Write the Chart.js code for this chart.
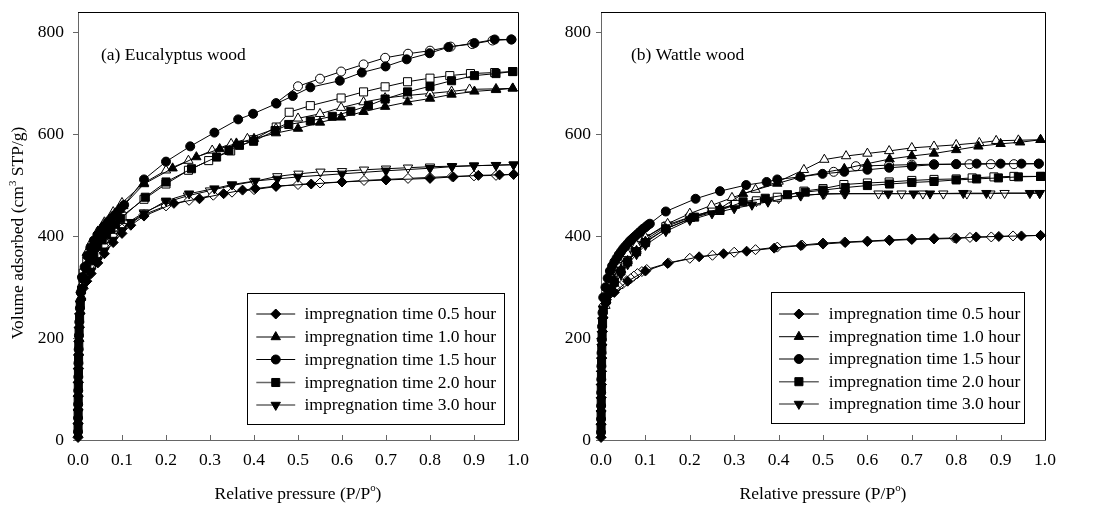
<!DOCTYPE html>
<html><head><meta charset="utf-8">
<script src="https://cdn.jsdelivr.net/npm/chart.js@4/dist/chart.umd.min.js"></script>
<style>
html,body{margin:0;padding:0;background:#fff;}
#wrap{position:relative;width:1095px;height:507px;overflow:hidden;background:#fff;}
canvas{position:absolute;top:0;}
</style></head><body>
<div id="wrap">
<canvas id="cA" width="560" height="507" style="left:0px"></canvas>
<canvas id="cB" width="555" height="507" style="left:540px"></canvas>
</div>
<script>
// ---------- DATA : [relative pressure, volume adsorbed] ----------
const seriesLabels = ['impregnation time 0.5 hour','impregnation time 1.0 hour','impregnation time 1.5 hour','impregnation time 2.0 hour','impregnation time 3.0 hour'];
const xTicks = [0,0.1,0.2,0.3,0.4,0.5,0.6,0.7,0.8,0.9,1.0];
const yTicks = [0,200,400,600,800];

// (a) Eucalyptus wood — adsorption (filled) and desorption (open)
const euc05Ads = [[0.0001,5],[0.0002,32],[0.0003,59],[0.0005,86],[0.0007,113],[0.001,140],[0.0014,167],[0.002,194],[0.003,221],[0.0045,248],[0.0065,275],[0.012,298],[0.02,312],[0.03,327],[0.045,348],[0.06,366],[0.08,388],[0.1,406],[0.12,422],[0.15,440],[0.218,465],[0.276,474],[0.331,484],[0.374,491],[0.403,494],[0.45,499],[0.53,503],[0.6,507],[0.7,511],[0.8,514],[0.853,517],[0.91,520],[0.958,521],[0.99,522]];
const euc05Des = [[0.99,522],[0.95,520],[0.9,519],[0.85,518],[0.8,516],[0.75,514],[0.7,512],[0.65,510],[0.6,507],[0.55,505],[0.5,502],[0.45,498],[0.4,492],[0.35,487],[0.3075,481],[0.2525,471],[0.2,460],[0.15,443],[0.1,415],[0.08,400],[0.06,380],[0.045,362],[0.03,340],[0.02,322],[0.012,305]];
const euc10Ads = [[0.00012,11],[0.00025,38],[0.0004,65],[0.0006,92],[0.0008,119],[0.0011,146],[0.0016,173],[0.0023,200],[0.0033,227],[0.005,254],[0.0075,282],[0.011,320],[0.017,342],[0.024,362],[0.031,379],[0.039,393],[0.047,405],[0.055,415],[0.063,424],[0.071,432],[0.079,439],[0.087,446],[0.095,453],[0.103,460],[0.15,503],[0.215,534],[0.269,556],[0.322,572],[0.36,583],[0.4,592],[0.45,603],[0.5,612],[0.55,624],[0.598,634],[0.649,645],[0.698,655],[0.749,664],[0.8,671],[0.849,679],[0.901,685],[0.95,688],[0.988,691]];
const euc10Des = [[0.988,691],[0.95,690],[0.89,689],[0.849,685],[0.8,681],[0.749,677],[0.698,672],[0.649,664],[0.598,653],[0.55,641],[0.5,632],[0.45,612],[0.385,592],[0.348,582],[0.305,569],[0.251,549],[0.2,530],[0.15,505],[0.1,466],[0.08,448],[0.06,428],[0.045,410],[0.03,388],[0.02,368]];
const euc15Ads = [[0.00008,16],[0.00018,43],[0.00035,70],[0.00055,97],[0.00075,124],[0.001,151],[0.0015,178],[0.0021,205],[0.003,232],[0.0043,259],[0.0062,290],[0.009,320],[0.015,340],[0.021,362],[0.028,378],[0.036,392],[0.044,403],[0.051,412],[0.059,420],[0.067,428],[0.075,435],[0.082,441],[0.09,448],[0.097,455],[0.105,462],[0.15,512],[0.2,547],[0.255,577],[0.31,604],[0.364,630],[0.398,641],[0.451,661],[0.488,676],[0.528,693],[0.595,706],[0.645,722],[0.699,734],[0.747,748],[0.799,760],[0.842,772],[0.901,780],[0.947,787],[0.985,787]];
const euc15Des = [[0.985,787],[0.942,785],[0.896,778],[0.847,773],[0.8,765],[0.75,759],[0.698,751],[0.649,738],[0.598,724],[0.55,710],[0.5,695],[0.45,662]];
const euc20Ads = [[0.00015,22],[0.0003,49],[0.00045,76],[0.0007,103],[0.001,130],[0.0013,157],[0.0018,184],[0.0025,211],[0.0036,238],[0.0052,265],[0.008,295],[0.013,318],[0.02,336],[0.028,352],[0.036,366],[0.045,380],[0.055,393],[0.065,404],[0.075,414],[0.085,424],[0.097,435],[0.153,477],[0.2,507],[0.258,533],[0.315,556],[0.343,569],[0.367,579],[0.399,587],[0.448,608],[0.479,620],[0.528,627],[0.578,636],[0.62,646],[0.66,657],[0.698,670],[0.749,684],[0.8,695],[0.849,706],[0.901,716],[0.95,720],[0.988,724]];
const euc20Des = [[0.988,724],[0.947,722],[0.892,720],[0.845,716],[0.8,711],[0.749,704],[0.698,694],[0.649,684],[0.598,672],[0.528,657],[0.48,644],[0.4505,615],[0.399,590],[0.347,568],[0.297,549],[0.251,530],[0.2,503],[0.15,473],[0.1,440],[0.08,425],[0.06,408],[0.045,393],[0.03,372],[0.02,352],[0.012,328]];
const euc30Ads = [[0.0001,27],[0.00022,54],[0.0004,81],[0.0006,108],[0.00085,135],[0.0012,162],[0.0016,189],[0.0022,216],[0.003,243],[0.0042,268],[0.006,285],[0.012,300],[0.02,316],[0.03,332],[0.045,353],[0.06,372],[0.08,393],[0.1,412],[0.12,428],[0.15,445],[0.2,470],[0.2525,484],[0.31,494],[0.35,502],[0.403,509],[0.453,513],[0.5,517],[0.6,523],[0.7,529],[0.8,534],[0.85,537],[0.9,539],[0.95,540],[0.99,541]];
const euc30Des = [[0.99,541],[0.95,540],[0.9,539],[0.85,538],[0.8,537],[0.75,535],[0.7,533],[0.65,531],[0.6,528],[0.551,527],[0.501,523],[0.453,518],[0.4,508],[0.35,500],[0.3,490],[0.25,480],[0.2,467],[0.15,447],[0.1,420],[0.08,405],[0.06,388],[0.045,370],[0.03,348],[0.02,328],[0.012,308]];

// (b) Wattle wood
const wat05Ads = [[0.0001,5],[0.0002,31],[0.00035,57],[0.0005,83],[0.0007,109],[0.001,135],[0.0014,161],[0.002,187],[0.003,213],[0.0045,240],[0.01,268],[0.03,290],[0.06,312],[0.1,332],[0.15,347],[0.221,360],[0.276,366],[0.328,371],[0.39,377],[0.45,382],[0.5,385],[0.55,388],[0.6,390],[0.65,392],[0.7,394],[0.75,395],[0.8,396],[0.845,399],[0.896,400],[0.947,401],[0.99,402]];
const wat05Des = [[0.99,402],[0.928,401],[0.879,399],[0.831,398],[0.796,397],[0.75,396],[0.7,395],[0.649,393],[0.6,391],[0.549,389],[0.5,387],[0.453,383],[0.397,379],[0.348,374],[0.3,369],[0.251,363],[0.2,357],[0.152,348],[0.103,335],[0.092,331],[0.082,327],[0.074,322],[0.067,317],[0.058,313],[0.049,307],[0.04,302],[0.033,298],[0.026,294],[0.018,285],[0.012,276],[0.007,265]];
const wat10Ads = [[0.00012,10],[0.00025,36],[0.0004,62],[0.0006,88],[0.0008,114],[0.0011,140],[0.0016,166],[0.0023,192],[0.0033,218],[0.005,245],[0.012,275],[0.02,295],[0.03,315],[0.045,335],[0.06,352],[0.08,372],[0.1,390],[0.146,415],[0.2,435],[0.268,455],[0.32,484],[0.397,504],[0.449,517],[0.548,533],[0.6,543],[0.65,552],[0.7,558],[0.75,563],[0.8,570],[0.85,577],[0.9,582],[0.944,585],[0.99,590]];
const wat10Des = [[0.99,590],[0.94,589],[0.89,588],[0.852,584],[0.8,580],[0.75,577],[0.7,574],[0.649,568],[0.6,563],[0.552,558],[0.503,551],[0.457,531],[0.4,508],[0.348,492],[0.295,476],[0.249,461],[0.2,445],[0.15,425],[0.1,398],[0.08,383],[0.06,366],[0.04,340],[0.025,312],[0.01,264]];
const wat15Ads = [[0.00008,15],[0.00018,41],[0.0003,67],[0.00045,93],[0.00065,119],[0.0009,145],[0.0012,171],[0.0017,197],[0.0024,223],[0.0034,250],[0.005,280],[0.01,300],[0.015,318],[0.02,332],[0.025,342],[0.03,350],[0.035,357],[0.04,364],[0.045,370],[0.05,376],[0.055,381],[0.06,386],[0.065,391],[0.07,395],[0.075,399],[0.08,403],[0.085,407],[0.09,411],[0.095,415],[0.1,418],[0.105,422],[0.11,425],[0.146,449],[0.213,474],[0.268,489],[0.327,501],[0.373,507],[0.397,512],[0.449,517],[0.499,523],[0.548,527],[0.6,531],[0.649,535],[0.7,538],[0.75,541],[0.8,542],[0.846,543],[0.9,543],[0.947,543],[0.986,543]];
const wat15Des = [[0.986,543],[0.93,542],[0.878,542],[0.83,542],[0.8,542],[0.75,542],[0.7,541],[0.649,540],[0.574,538],[0.524,527]];
const wat20Ads = [[0.00015,21],[0.0003,47],[0.0005,73],[0.0007,99],[0.001,125],[0.0013,151],[0.0018,177],[0.0025,203],[0.0035,229],[0.0052,255],[0.012,275],[0.02,292],[0.03,310],[0.045,332],[0.06,350],[0.08,370],[0.1,388],[0.146,415],[0.211,438],[0.268,451],[0.32,468],[0.37,475],[0.42,482],[0.46,487],[0.5,491],[0.55,496],[0.6,500],[0.65,503],[0.7,506],[0.75,508],[0.8,511],[0.846,513],[0.895,515],[0.94,517],[0.99,518]];
const wat20Des = [[0.99,518],[0.93,518],[0.885,517],[0.836,515],[0.8,513],[0.75,512],[0.7,510],[0.649,507],[0.6,505],[0.547,502],[0.5,494],[0.457,489],[0.397,477],[0.35,470],[0.303,463],[0.251,451],[0.202,438],[0.146,419],[0.101,394],[0.078,377],[0.056,360],[0.038,341],[0.02,312],[0.01,281]];
const wat30Ads = [[0.0001,26],[0.00022,52],[0.0004,78],[0.0006,104],[0.00085,130],[0.0012,156],[0.0016,182],[0.0022,208],[0.003,234],[0.0042,258],[0.012,270],[0.02,288],[0.03,305],[0.045,325],[0.06,345],[0.08,365],[0.1,383],[0.146,410],[0.2,432],[0.25,445],[0.3,455],[0.34,462],[0.376,468],[0.449,481],[0.5,483],[0.55,484],[0.647,484],[0.704,484],[0.741,484],[0.816,485],[0.868,485],[0.966,485],[0.988,485]];
const wat30Des = [[0.988,485],[0.909,485],[0.877,484],[0.824,484],[0.771,484],[0.725,484],[0.677,484],[0.625,484],[0.548,484],[0.503,484],[0.45,480],[0.4,475],[0.35,469],[0.3,461],[0.25,450],[0.2,438],[0.15,423],[0.1,398],[0.08,385],[0.06,370],[0.04,350],[0.025,325],[0.015,300]];

// ---------- STYLE ----------
const FONT = '"Liberation Serif", "Times New Roman", Times, serif';
const FS = 17.5;
const pointStyles = ['rectRot','triangle','circle','rect','triangle'];
const pointRots = [0,0,0,0,180];
const pointRadii = [5,5.4,4.5,5.7,5.4];

function makeDataset(arr, i, filled) {
  return {
    label: seriesLabels[i],
    data: arr.map(p => ({x: p[0], y: p[1]})),
    showLine: true, tension: 0,
    borderColor: '#000', borderWidth: 1,
    pointStyle: pointStyles[i], pointRotation: pointRots[i], pointRadius: pointRadii[i],
    pointBackgroundColor: filled ? '#000' : '#fff',
    pointBorderColor: '#000', pointBorderWidth: 1,
    clip: false
  };
}
function makeDatasets(ads, des) {
  const out = [];
  ads.forEach((a, i) => out.push(makeDataset(a, i, true)));
  des.forEach((d, i) => out.push(makeDataset(d, i, false)));
  return out;
}

function drawRich(ctx, parts, x, y, size) {
  let total = 0;
  const w = parts.map(p => { ctx.font = (p[1] ? size * 0.62 : size) + 'px ' + FONT; const m = ctx.measureText(p[0]).width; total += m; return m; });
  let cx = x - total / 2;
  ctx.textAlign = 'left'; ctx.textBaseline = 'middle';
  parts.forEach((p, i) => {
    ctx.font = (p[1] ? size * 0.62 : size) + 'px ' + FONT;
    ctx.fillText(p[0], cx, p[1] ? y - size * 0.33 : y);
    cx += w[i];
  });
}

function makePanelPlugin(cfg) {
  return {
    id: 'panel' + cfg.id,
    beforeDatasetsDraw(chart) {
      const {ctx, chartArea: a} = chart;
      const xs = chart.scales.x;
      ctx.save();
      ctx.lineWidth = 1;
      ctx.strokeStyle = '#000';
      const t = Math.round(a.top) + 0.5, r = Math.round(a.right) + 0.5;
      ctx.beginPath(); ctx.moveTo(a.left, t); ctx.lineTo(r, t); ctx.lineTo(r, a.bottom); ctx.stroke();
      ctx.strokeStyle = '#666';
      xTicks.forEach(v => {
        if (v <= 0 || v >= 1) return;
        const px = Math.round(xs.getPixelForValue(v)) + 0.5;
        ctx.beginPath(); ctx.moveTo(px, a.bottom); ctx.lineTo(px, a.bottom - 5); ctx.stroke();
      });
      ctx.restore();
    },
    afterDraw(chart) {
      const {ctx, chartArea: a} = chart;
      ctx.save();
      ctx.fillStyle = '#000';
      ctx.font = FS + 'px ' + FONT;
      ctx.textAlign = 'left'; ctx.textBaseline = 'middle';
      ctx.fillText(cfg.note, cfg.noteX, cfg.noteY);
      drawRich(ctx, [['Relative pressure (P/P', false], ['o', true], [')', false]], (a.left + a.right) / 2, 494, FS);
      if (cfg.yTitle) {
        ctx.save();
        ctx.translate(18.5, 233);
        ctx.rotate(-Math.PI / 2);
        drawRich(ctx, [['Volume adsorbed (cm', false], ['3', true], [' STP/g)', false]], 0, 0, FS);
        ctx.restore();
      }
      // legend
      const L = cfg.legend;
      ctx.fillStyle = '#fff';
      ctx.fillRect(L.x0, L.y0, L.x1 - L.x0, L.y1 - L.y0);
      ctx.strokeStyle = '#000'; ctx.lineWidth = 1;
      ctx.strokeRect(Math.round(L.x0) + 0.5, Math.round(L.y0) + 0.5, Math.round(L.x1 - L.x0), Math.round(L.y1 - L.y0));
      seriesLabels.forEach((lab, i) => {
        const y = L.rows[i];
        ctx.strokeStyle = i >= 3 ? '#666' : '#000';
        ctx.lineWidth = i >= 3 ? 1.4 : 1;
        ctx.beginPath(); ctx.moveTo(L.lx0, y); ctx.lineTo(L.lx1, y); ctx.stroke();
        ctx.fillStyle = '#000'; ctx.strokeStyle = '#000'; ctx.lineWidth = 1;
        Chart.helpers.drawPoint(ctx, {pointStyle: pointStyles[i], rotation: pointRots[i], radius: pointRadii[i], borderWidth: 1}, (L.lx0 + L.lx1) / 2, y);
        ctx.fillStyle = '#000';
        ctx.font = FS + 'px ' + FONT;
        ctx.textAlign = 'left'; ctx.textBaseline = 'middle';
        ctx.fillText(lab, L.tx, y + 0.5);
      });
      ctx.restore();
    }
  };
}

function makeChart(id, datasets, cfg) {
  return new Chart(document.getElementById(id), {
    type: 'scatter',
    data: {datasets},
    options: {
      responsive: false, animation: false, events: [],
      layout: {padding: {top: 12, right: cfg.padRight, left: 0, bottom: 0}},
      plugins: {legend: {display: false}, tooltip: {enabled: false}},
      scales: {
        x: {
          type: 'linear', min: 0, max: 1,
          afterBuildTicks(s) { s.ticks = xTicks.map(v => ({value: v})); },
          ticks: {padding: 2, color: '#000', font: {family: FONT, size: FS}, maxRotation: 0, autoSkip: false, callback: v => Number(v).toFixed(1)},
          grid: {display: false},
          border: {display: true, color: '#666', width: 1},
          afterFit(s) { s.height = 67; s.paddingLeft = 0; s.paddingRight = 0; }
        },
        y: {
          type: 'linear', min: 0, max: 841,
          afterBuildTicks(s) { s.ticks = yTicks.map(v => ({value: v})); },
          ticks: {padding: cfg.yPad, color: '#000', font: {family: FONT, size: FS}, callback: v => String(v)},
          grid: {display: true, drawOnChartArea: false, drawTicks: true, tickLength: 5, color: '#666'},
          border: {display: true, color: '#666', width: 1},
          afterFit(s) { s.width = cfg.yWidth; s.paddingTop = 0; s.paddingBottom = 0; }
        }
      }
    },
    plugins: [makePanelPlugin(cfg)]
  });
}

makeChart('cA',
  makeDatasets([euc05Ads, euc10Ads, euc15Ads, euc20Ads, euc30Ads], [euc05Des, euc10Des, euc15Des, euc20Des, euc30Des]),
  {id: 'A', padRight: 42, yWidth: 78, yPad: 9, yTitle: true,
   note: '(a) Eucalyptus wood', noteX: 101, noteY: 55,
   legend: {x0: 247, y0: 293.3, x1: 503.5, y1: 424.3, lx0: 256.3, lx1: 295.2, tx: 304.5, rows: [314, 337, 359.5, 382.5, 405]}});

makeChart('cB',
  makeDatasets([wat05Ads, wat10Ads, wat15Ads, wat20Ads, wat30Ads], [wat05Des, wat10Des, wat15Des, wat20Des, wat30Des]),
  {id: 'B', padRight: 50, yWidth: 61, yPad: 5, yTitle: false,
   note: '(b) Wattle wood', noteX: 91, noteY: 55,
   legend: {x0: 230.6, y0: 292.3, x1: 484, y1: 423.3, lx0: 239, lx1: 278.8, tx: 288.8, rows: [314, 336.7, 359, 381.7, 404]}});
</script>
</body></html>
